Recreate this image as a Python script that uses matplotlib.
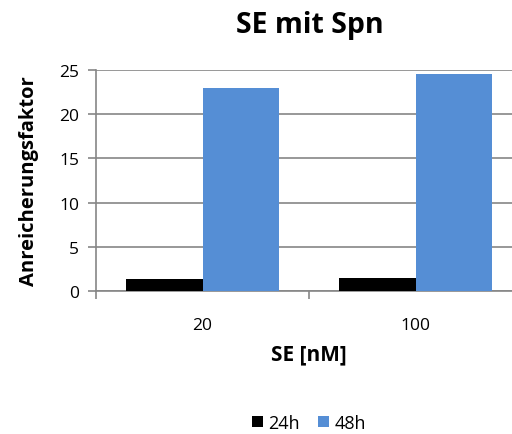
import matplotlib.pyplot as plt
import numpy as np

plt.rcParams['font.family'] = ['Open Sans', 'DejaVu Sans']

# Daten
konzentrationen = ['20', '100']
serien = ['24h', '48h']
werte_24h = [1.4, 1.5]
werte_48h = [23.0, 24.5]
farben = ['#000000', '#558ED5']

fig = plt.figure(figsize=(5.12, 4.35), dpi=100)
ax = fig.add_axes([96 / 512, 0.3287, 426 / 512, 0.5080])

x = np.arange(len(konzentrationen))
breite = 0.36
ax.bar(x - breite / 2, werte_24h, breite, color=farben[0], label=serien[0], zorder=3)
ax.bar(x + breite / 2, werte_48h, breite, color=farben[1], label=serien[1], zorder=3)

ax.set_xlim(-0.5, 1.5)
ax.set_ylim(0, 25)
ax.set_yticks(range(0, 26, 5))
ax.yaxis.grid(True, color='#868686', linewidth=1.2, zorder=0)

# Achsen im Excel-Stil
for seite in ['top', 'right']:
    ax.spines[seite].set_visible(False)
for seite in ['left', 'bottom']:
    ax.spines[seite].set_color('#868686')
    ax.spines[seite].set_linewidth(1.2)

ax.set_xticks(x)
ax.set_xticklabels(konzentrationen, fontsize=12.5)
ax.set_xticks([-0.5, 0.5, 1.5], minor=True)
ax.tick_params(axis='x', which='major', length=0, pad=19)
ax.tick_params(axis='x', which='minor', length=6, color='#868686', width=1.2)
ax.tick_params(axis='y', length=6, color='#868686', width=1.2, labelsize=12.5, pad=6)

ax.set_xlabel('SE [nM]', fontsize=15, fontweight='bold', labelpad=7)
ax.set_ylabel('Anreicherungsfaktor', fontsize=14.5, fontweight='bold', labelpad=15)

fig.text(310 / 512, 1 - 26 / 435, 'SE mit Spn', ha='center', va='center',
         fontsize=20.5, fontweight='bold')

fig.legend(loc='center', bbox_to_anchor=(309 / 512, 1 - 424 / 435), ncol=2,
           frameon=False, fontsize=13, handlelength=0.6, handleheight=0.6,
           handletextpad=0.3, columnspacing=1.0)

fig.savefig('out.png', dpi=100)
